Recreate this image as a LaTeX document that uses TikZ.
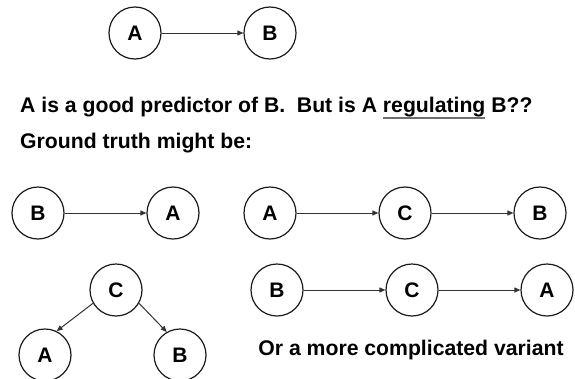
\documentclass[tikz,border=0pt]{standalone}
\usepackage{fontspec}
\setmainfont{Liberation Sans}
\usetikzlibrary{arrows.meta}

\definecolor{ink}{HTML}{1A1A1A}
\definecolor{edgeink}{HTML}{333333}
\definecolor{ulgray}{HTML}{6E6E6E}

% grey underline drawn under a word, kept on the text baseline
\newcommand\grayul[1]{\setbox0\hbox{#1}\rlap{\color{ulgray}\rule[-7.3pt]{\wd0}{2.6pt}}\box0\relax}

\tikzset{
  var/.style={circle, draw=ink, line width=1.2pt, minimum size=52pt, inner sep=0pt,
              font=\fontsize{21}{25}\selectfont\bfseries, text=black},
  link/.style={draw=edgeink, line width=1pt, -{Triangle[length=6pt,width=5pt]}},
  caption/.style={inner sep=0pt, font=\fontsize{21.2}{25}\selectfont\bfseries, text=black}
}

\begin{document}
\begin{tikzpicture}[x=1pt, y=-1pt]
  \useasboundingbox (0,0) rectangle (575,378);

  % observed association
  \node[var] (a0) at (135,33) {A};
  \node[var] (b0) at (270,33) {B};
  \draw[link] (a0) -- (b0);

  % question text
  \node[caption, anchor=base west] (q1) at (20,112)
    {A is a good predictor of B.\ \ But is A \grayul{regulating} B??};
  \node[caption, anchor=base west] (q2) at (20,148) {Ground truth might be:};

  % B causes A
  \node[var] (b1) at (38,213) {B};
  \node[var] (a1) at (173,213) {A};
  \draw[link] (b1) -- (a1);

  % A -> C -> B
  \node[var] (a2) at (270,213) {A};
  \node[var] (c2) at (405,213) {C};
  \node[var] (b2) at (540,213) {B};
  \draw[link] (a2) -- (c2);
  \draw[link] (c2) -- (b2);

  % B -> C -> A
  \node[var] (b3) at (277,290) {B};
  \node[var] (c3) at (412,290) {C};
  \node[var] (a3) at (547,290) {A};
  \draw[link] (b3) -- (c3);
  \draw[link] (c3) -- (a3);

  % common cause C
  \node[var] (c4) at (116,290) {C};
  \node[var] (a4) at (45,355) {A};
  \node[var] (b4) at (180,355) {B};
  \draw[link] (c4.210) -- (a4.64);
  \draw[link] (c4.-30) -- (b4.120);

  \node[caption, anchor=base] (q3) at (411,355) {Or a more complicated variant};
\end{tikzpicture}
\end{document}
